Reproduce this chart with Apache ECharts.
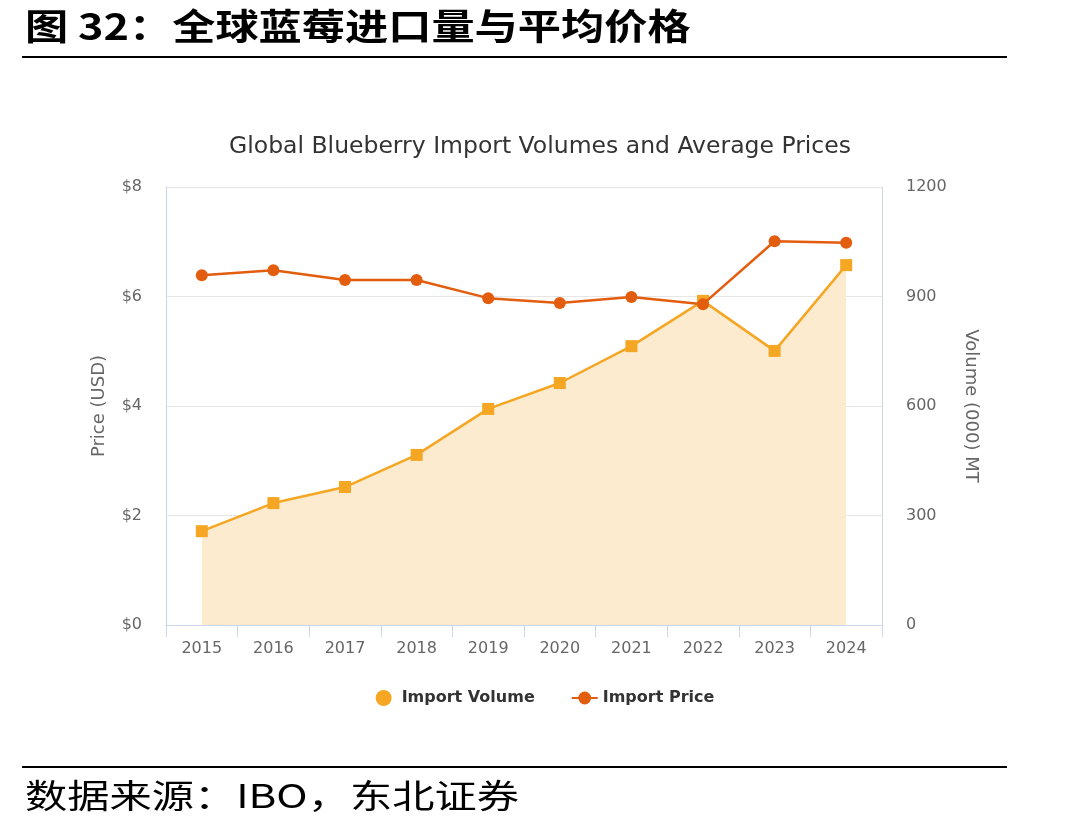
<!DOCTYPE html>
<html>
<head>
<meta charset="utf-8">
<script src="https://cdn.jsdelivr.net/npm/echarts@6/dist/echarts.min.js"></script>
<style>
  html, body { margin: 0; padding: 0; background: #fff; }
  #main { width: 1090px; height: 832px; }
</style>
</head>
<body>
<div id="main"></div>
<script>
// data
var years = ['2015', '2016', '2017', '2018', '2019', '2020', '2021', '2022', '2023', '2024'];
var importVolume = [257, 334, 378, 466, 592, 663, 764, 888, 751, 986];
var importPrice = [6.39, 6.48, 6.30, 6.30, 5.97, 5.88, 5.99, 5.86, 7.01, 6.98];
var priceTicks = [0, 2, 4, 6, 8];
var volumeTicks = [0, 300, 600, 900, 1200];

var axisFont = '"DejaVu Sans", sans-serif';
var cjkFont = '"Noto Sans CJK SC", sans-serif';

var chart = echarts.init(document.getElementById('main'));

var option = {
  backgroundColor: '#fff',
  animation: false,
  title: {
    text: 'Global Blueberry Import Volumes and Average Prices',
    left: 535,
    top: 130,
    textAlign: 'center',
    textStyle: {
      fontFamily: axisFont,
      fontSize: 23.5,
      fontWeight: 'normal',
      color: '#333'
    }
  },
  legend: {
    top: 685,
    left: 'center',
    itemGap: 36,
    itemWidth: 26,
    itemHeight: 16,
    textStyle: {
      fontFamily: axisFont,
      fontSize: 16,
      fontWeight: 'bold',
      color: '#333'
    },
    data: [
      {name: 'Import Volume', icon: 'circle'},
      {name: 'Import Price'}
    ]
  },
  grid: {
    left: 166,
    right: 208,
    top: 187,
    bottom: 207
  },
  xAxis: {
    type: 'category',
    data: years,
    boundaryGap: true,
    axisLine: {lineStyle: {color: '#ccd6eb'}},
    axisTick: {show: true, length: 12, lineStyle: {color: '#ccd6eb'}},
    axisLabel: {
      margin: 16,
      fontFamily: axisFont,
      fontSize: 16,
      color: '#666'
    }
  },
  yAxis: [
    {
      type: 'value',
      min: priceTicks[0],
      max: priceTicks[priceTicks.length - 1],
      interval: 2,
      name: 'Price (USD)',
      nameLocation: 'middle',
      nameGap: 58,
      nameRotate: 90,
      nameTextStyle: {fontFamily: axisFont, fontSize: 18, color: '#666'},
      axisLine: {show: true, lineStyle: {color: '#ccd6eb'}},
      axisTick: {show: false},
      axisLabel: {
        margin: 24,
        fontFamily: axisFont,
        fontSize: 16,
        color: '#666',
        formatter: function (v) { return '$' + v; }
      },
      splitLine: {lineStyle: {color: '#e6e6e6'}}
    },
    {
      type: 'value',
      min: volumeTicks[0],
      max: volumeTicks[volumeTicks.length - 1],
      interval: 300,
      position: 'right',
      name: 'Volume (000) MT',
      nameLocation: 'middle',
      nameGap: 80,
      nameRotate: -90,
      nameTextStyle: {fontFamily: axisFont, fontSize: 18, color: '#666'},
      axisLine: {show: true, lineStyle: {color: '#ccd6eb'}},
      axisTick: {show: false},
      axisLabel: {
        margin: 24,
        fontFamily: axisFont,
        fontSize: 16,
        color: '#666',
        formatter: function (v) { return String(v); }
      },
      splitLine: {show: false}
    }
  ],
  series: [
    {
      name: 'Import Volume',
      type: 'line',
      yAxisIndex: 1,
      data: importVolume,
      symbol: 'rect',
      symbolSize: 12,
      itemStyle: {color: '#f5a623'},
      lineStyle: {color: '#f5a623', width: 2.5},
      areaStyle: {color: '#fdebd0', opacity: 1},
      z: 2
    },
    {
      name: 'Import Price',
      type: 'line',
      yAxisIndex: 0,
      data: importPrice,
      symbol: 'circle',
      symbolSize: 12,
      itemStyle: {color: '#e35d0e'},
      lineStyle: {color: '#e35d0e', width: 2.5},
      z: 3
    }
  ],
  graphic: [
    {
      type: 'text',
      x: 25,
      y: 8,
      scaleX: 1.2,
      style: {
        text: '图 32：全球蓝莓进口量与平均价格',
        fontFamily: cjkFont,
        fontSize: 36,
        fontWeight: 'bold',
        fill: '#000'
      }
    },
    {
      type: 'line',
      shape: {x1: 22, y1: 57, x2: 1007, y2: 57},
      style: {stroke: '#000', lineWidth: 2}
    },
    {
      type: 'line',
      shape: {x1: 22, y1: 767, x2: 1007, y2: 767},
      style: {stroke: '#000', lineWidth: 2}
    },
    {
      type: 'text',
      x: 25,
      y: 779,
      scaleX: 1.28,
      style: {
        text: '数据来源：IBO，东北证券',
        fontFamily: cjkFont,
        fontSize: 33,
        fill: '#000'
      }
    }
  ]
};

chart.setOption(option);
</script>
</body>
</html>
